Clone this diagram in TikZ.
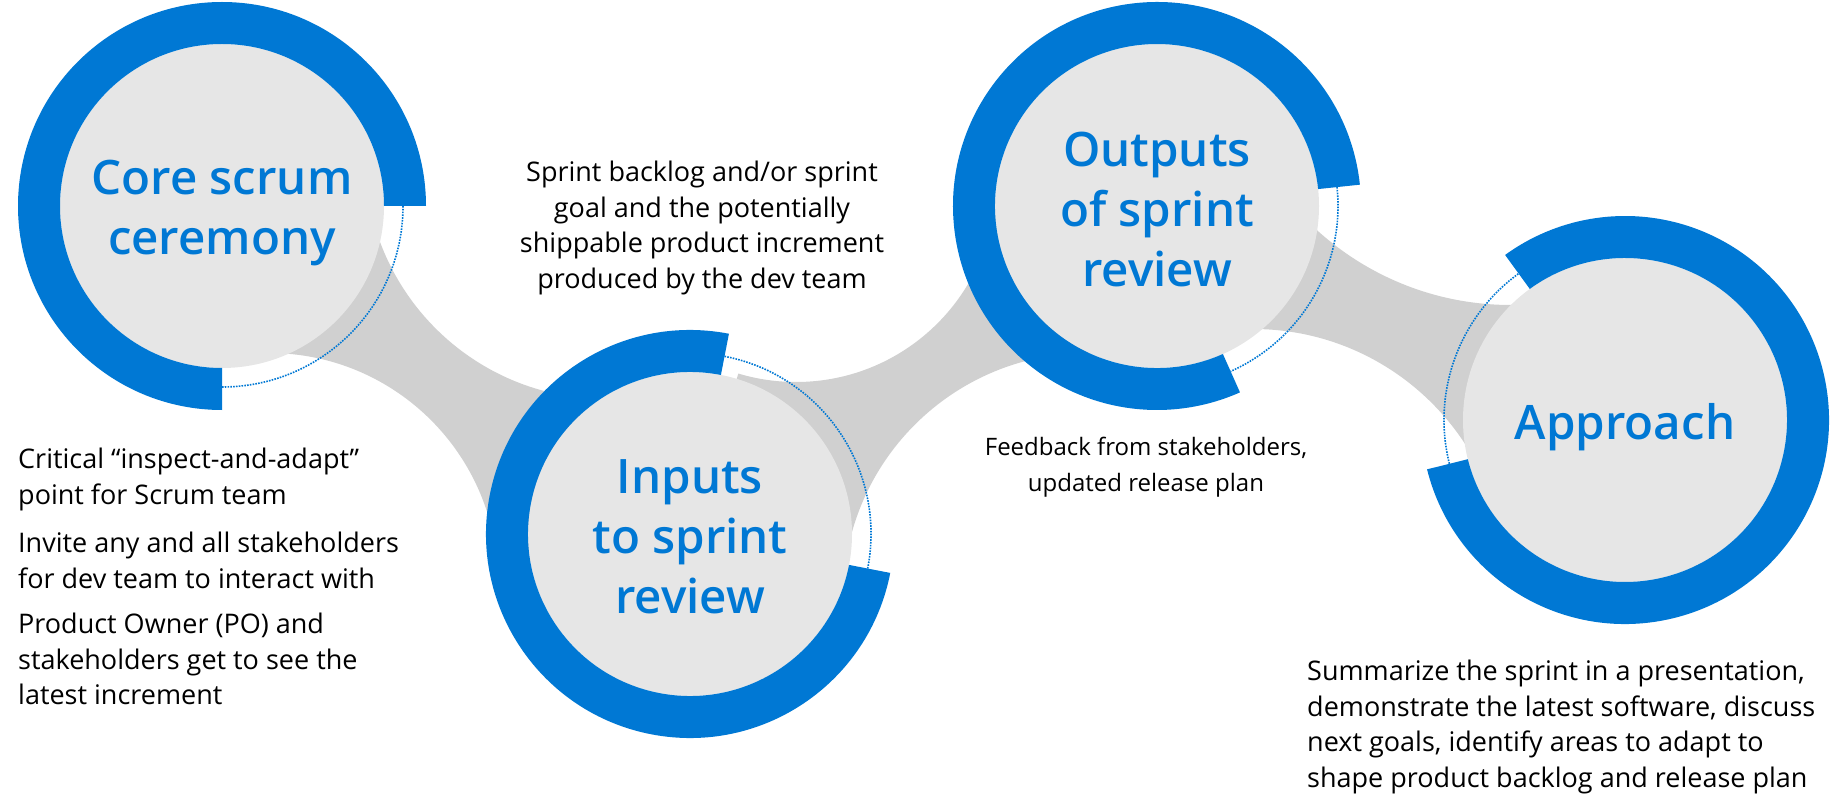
\documentclass[tikz,border=0pt]{standalone}
\usepackage{fontspec}
\setmainfont{Open Sans}
\IfFontExistsTF{Open Sans Semibold}
  {\newfontfamily\titlefamily{Open Sans Semibold}\newcommand\titlescale{47.5}}
  {\IfFontExistsTF{Open Sans SemiBold}
    {\newfontfamily\titlefamily{Open Sans SemiBold}\newcommand\titlescale{47.5}}
    {\newfontfamily\titlefamily{Open Sans Bold}\newcommand\titlescale{45}}}
\definecolor{msblue}{HTML}{0078D4}
\definecolor{diskgrey}{HTML}{E6E6E6}
\definecolor{bandgrey}{HTML}{D0D0D0}
\newcommand\titlesize{\titlefamily\fontsize{\titlescale}{60}\selectfont}
\newcommand\bodysize{\fontsize{27}{35.5}\selectfont}
\newcommand\smallbodysize{\fontsize{24}{35.5}\selectfont}
\tikzset{
  bandfill/.style={fill=bandgrey},
  diskfill/.style={circle, fill=diskgrey, draw=none, minimum size=324pt, inner sep=0pt},
  ringfill/.style={fill=msblue},
  dotline/.style={draw=msblue, line width=1.6pt, dash pattern=on 1.6pt off 1.2pt},
  ringtitle/.style={text=msblue, font=\titlesize, align=center, inner sep=0pt},
  bodytext/.style={text=black, font=\bodysize, inner sep=0pt},
}
% grey link between two circles, carved by two white circles
\newcommand\bandlink[6]{%
  \begin{scope}
    \clip (#1) -- (#2) -- (#4) -- (#5) -- cycle;
    \fill[bandfill, even odd rule] (-100,-100) rectangle (1948,910)
      (#2) circle[radius=#3] (#5) circle[radius=#6];
  \end{scope}}
% blue ring sector
\newcommand\ringarc[3]{%
  \begin{scope}[shift={(#1)}]
    \fill[ringfill] (#2:204) arc[start angle=#2, end angle=#3, radius=204]
      -- (#3:162) arc[start angle=#3, end angle=#2, radius=162] -- cycle;
  \end{scope}}
% dotted arc in the ring gap
\newcommand\dotgap[3]{%
  \begin{scope}[shift={(#1)}]
    \draw[dotline] (#2:181) arc[start angle=#2, end angle=#3, radius=181];
  \end{scope}}
\begin{document}
\begin{tikzpicture}[x=1pt,y=-1pt]
\useasboundingbox (0,0) rectangle (1848,810);
\coordinate (c1) at (222,206);
\coordinate (c2) at (690,534);
\coordinate (c3) at (1157,206);
\coordinate (c4) at (1625,420);
\coordinate (k1u) at (606,158);
\coordinate (k1d) at (269,582);
\coordinate (k2u) at (796,182);
\coordinate (k2d) at (1088,598);
\coordinate (k3u) at (1511,16);
\coordinate (k3d) at (1253,582);
% links
\bandlink{c1}{k1u}{241}{c2}{k1d}{229}
\bandlink{c2}{k2u}{200}{c3}{k2d}{245}
\bandlink{c3}{k3u}{289}{c4}{k3d}{253}
% disks
\node[diskfill] (n1) at (c1) {};
\node[diskfill] (n2) at (c2) {};
\node[diskfill] (n3) at (c3) {};
\node[diskfill] (n4) at (c4) {};
% rings
\ringarc{c1}{0}{-270}
\ringarc{c2}{-79}{-349}
\ringarc{c3}{-6}{-294}
\ringarc{c4}{-194}{-486}
% dotted gaps
\dotgap{c1}{0}{90}
\dotgap{c2}{-79}{11}
\dotgap{c3}{-6}{66}
\dotgap{c4}{-194}{-126}
% titles
\node[ringtitle] (t1) at (222,213) {Core scrum\\ceremony};
\node[ringtitle] (t2) at (690,537) {Inputs\\to sprint\\review};
\node[ringtitle] (t3) at (1157,210) {Outputs\\of sprint\\review};
\node[ringtitle] (t4) at (1625,427) {Approach};
% texts
\node[bodytext, anchor=north west, align=left] (b1) at (18,448)
  {Critical “inspect-and-adapt”\\point for Scrum team\\[13pt]Invite any and all stakeholders\\for dev team to interact with\\[10pt]Product Owner (PO) and\\stakeholders get to see the\\latest increment};
\node[bodytext, anchor=north, align=center] (b2) at (702,161)
  {Sprint backlog and/or sprint\\goal and the potentially\\shippable product increment\\produced by the dev team};
\node[bodytext, font=\smallbodysize, anchor=north, align=center] (b3) at (1146,437)
  {Feedback from stakeholders,\\updated release plan};
\node[bodytext, anchor=north west, align=left] (b4) at (1307,660)
  {Summarize the sprint in a presentation,\\demonstrate the latest software, discuss\\next goals, identify areas to adapt to\\shape product backlog and release plan};
\end{tikzpicture}
\end{document}
